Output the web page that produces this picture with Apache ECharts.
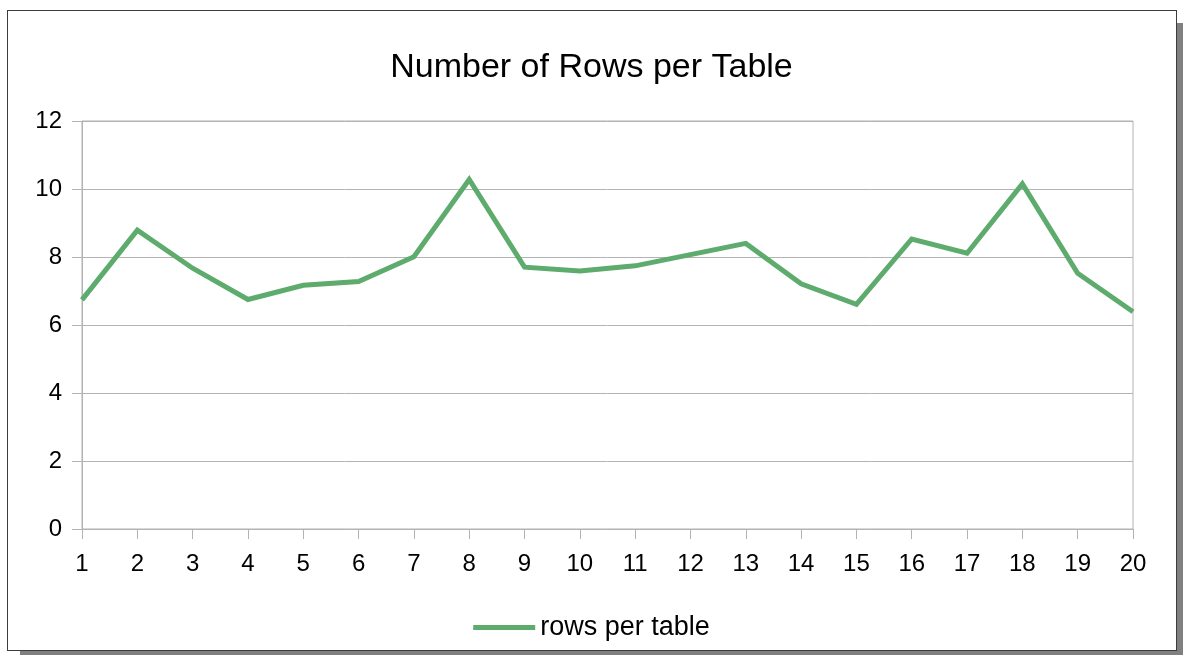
<!DOCTYPE html>
<html>
<head>
<meta charset="utf-8">
<script src="https://cdn.jsdelivr.net/npm/echarts@6/dist/echarts.min.js"></script>
<style>
  html, body { margin: 0; padding: 0; width: 1183px; height: 655px; overflow: hidden; background: #ffffff; }
  #frame {
    position: absolute; left: 7px; top: 10px; width: 1168px; height: 639px;
    border: 1px solid #3c3c3c; background: #ffffff;
    box-shadow: 13px 13px 0 #808080;
  }
  #chart { position: absolute; left: 0; top: 0; width: 1183px; height: 655px; }
</style>
</head>
<body>
<div id="frame"></div>
<div id="chart"></div>
<script>
// Table index on the x axis
const tableIds = ['1','2','3','4','5','6','7','8','9','10','11','12','13','14','15','16','17','18','19','20'];
// Average rows per table
const rowsPerTable = [6.74, 8.79, 7.67, 6.75, 7.17, 7.28, 8.01, 10.28, 7.70, 7.59, 7.74, 8.07, 8.40, 7.21, 6.61, 8.53, 8.11, 10.15, 7.52, 6.39];
const yTicks = { min: 0, max: 12, interval: 2 };

const FONT = '"Liberation Sans", Arial, sans-serif';
const GREEN = '#5eab6e';
const AXIS_GRAY = '#b3b3b3';

const chart = echarts.init(document.getElementById('chart'), null, { renderer: 'canvas' });
chart.setOption({
  backgroundColor: 'transparent',
  animation: false,
  title: {
    text: 'Number of Rows per Table',
    left: 'center',
    top: 46,
    textStyle: { fontFamily: FONT, fontSize: 34, fontWeight: 'normal', color: '#000000' }
  },
  legend: {
    bottom: 9,
    left: 'center',
    itemWidth: 62,
    itemHeight: 5,
    itemGap: 8,
    icon: 'rect',
    textStyle: { fontFamily: FONT, fontSize: 27, color: '#000000' },
    data: ['rows per table']
  },
  grid: {
    left: 82, right: 50, top: 121, bottom: 126,
    show: true, borderColor: AXIS_GRAY, borderWidth: 1,
    containLabel: false
  },
  xAxis: {
    type: 'category',
    data: tableIds,
    boundaryGap: false,
    axisLine: { show: true, lineStyle: { color: AXIS_GRAY, width: 1 } },
    axisTick: { show: true, length: 10, inside: false, lineStyle: { color: AXIS_GRAY } },
    axisLabel: { margin: 23, fontFamily: FONT, fontSize: 24, color: '#000000', interval: 0 },
    splitLine: { show: false }
  },
  yAxis: {
    type: 'value',
    min: yTicks.min, max: yTicks.max, interval: yTicks.interval,
    axisLine: { show: true, lineStyle: { color: AXIS_GRAY, width: 1 } },
    axisTick: { show: true, length: 10, inside: false, lineStyle: { color: AXIS_GRAY } },
    axisLabel: { margin: 20, fontFamily: FONT, fontSize: 24, color: '#000000' },
    splitLine: { show: true, lineStyle: { color: AXIS_GRAY, width: 1 } }
  },
  series: [{
    name: 'rows per table',
    type: 'line',
    data: rowsPerTable,
    showSymbol: false,
    symbol: 'none',
    lineStyle: { color: GREEN, width: 5, join: 'miter' },
    itemStyle: { color: GREEN }
  }]
});
</script>
</body>
</html>
